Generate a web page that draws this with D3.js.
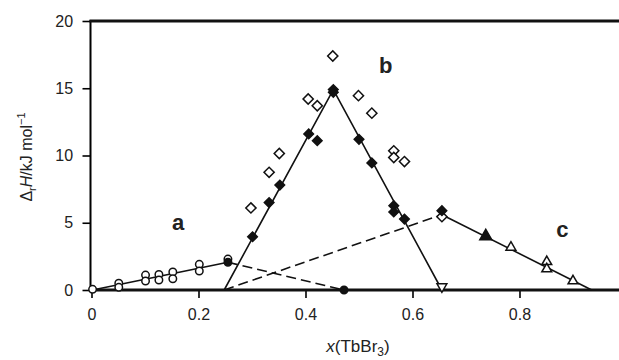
<!DOCTYPE html>
<html><head><meta charset="utf-8">
<script src="https://cdn.jsdelivr.net/npm/d3@7"></script>
<style>body{margin:0;background:#fff}svg{display:block}text{font-family:"Liberation Sans",Arial,Helvetica,sans-serif}</style>
</head><body>
<svg id="c" width="619" height="360"></svg>
<script>
// ---- data ----
const xTicks = [0, 0.2, 0.4, 0.6, 0.8];
const yTicks = [0, 5, 10, 15, 20];
const openCircles = [[0.002,0.05],[0.051,0.5],[0.051,0.2],[0.101,1.11],[0.101,0.67],[0.126,1.16],[0.126,0.74],[0.152,1.34],[0.152,0.84],[0.2015,1.91],[0.2015,1.41],[0.255,2.3]];
const filledCircles = [[0.255,2.06],[0.472,0]];
const filledDiamonds = [[0.301,3.96],[0.332,6.5],[0.352,7.8],[0.406,11.6],[0.422,11.1],[0.452,14.9],[0.452,14.7],[0.5,11.2],[0.524,9.45],[0.565,6.27],[0.565,5.8],[0.585,5.27],[0.655,5.9]];
const openDiamonds = [[0.298,6.1],[0.332,8.75],[0.351,10.15],[0.405,14.2],[0.422,13.7],[0.451,17.4],[0.499,14.45],[0.524,13.15],[0.565,10.35],[0.565,9.85],[0.585,9.55],[0.655,5.45]];
const openDownTriangles = [[0.655,0.25]];
const filledTriangles = [[0.737,4.0]];
const openTriangles = [[0.784,3.17],[0.851,2.1],[0.851,1.56],[0.9,0.67]];
const lineA = [[0.002,0.0],[0.255,2.06]];
const lineB = [[0.248,0],[0.452,14.9],[0.655,0]];
const lineC = [[0.655,5.6],[0.935,0]];
const dashed1 = [[0.255,2.06],[0.472,0]];
const dashed2 = [[0.248,0],[0.655,5.6]];
const regionLabels = [["a",0.162,5.0],["b",0.55,16.7],["c",0.88,4.5]];

// ---- chart ----
const svg = d3.select("#c");
const x = d3.scaleLinear().domain([0, 0.986]).range([91.5, 619]);
const y = d3.scaleLinear().domain([0, 20]).range([290, 21]);

// axes
const gx = svg.append("g").attr("transform", `translate(0,${y(0)})`)
  .call(d3.axisBottom(x).tickValues(xTicks).tickSize(8).tickSizeOuter(0)
    .tickFormat(d => d === 0 ? "0" : d3.format(".1f")(d)));
gx.select(".domain").remove();
gx.selectAll("line").attr("stroke", "#000").attr("stroke-width", 1.6);
gx.selectAll("text").attr("font-size", 16).attr("fill", "#222").attr("dy", "1.2em");

const gy = svg.append("g").attr("transform", `translate(${x(0) - 1},0)`)
  .call(d3.axisLeft(y).tickValues(yTicks).tickSize(8).tickSizeOuter(0));
gy.select(".domain").remove();
gy.selectAll("line").attr("stroke", "#000").attr("stroke-width", 1.6);
gy.selectAll("text").attr("font-size", 16).attr("fill", "#222").attr("dx", "-0.4em");

// frame lines
svg.append("line").attr("x1", x(0) - 1).attr("x2", x(0) - 1).attr("y1", y(20) - 1).attr("y2", y(0) + 2)
  .attr("stroke", "#000").attr("stroke-width", 2);
svg.append("line").attr("x1", x(0) - 2).attr("x2", 619).attr("y1", y(20)).attr("y2", y(20))
  .attr("stroke", "#111").attr("stroke-width", 3);
svg.append("line").attr("x1", x(0) - 2).attr("x2", 619).attr("y1", y(0)).attr("y2", y(0))
  .attr("stroke", "#111").attr("stroke-width", 3);

// lines
const lg = d3.line().x(d => x(d[0])).y(d => y(d[1]));
[lineA, lineB, lineC].forEach(l => svg.append("path").attr("d", lg(l)).attr("fill", "none")
  .attr("stroke", "#111").attr("stroke-width", 1.6));
[dashed1, dashed2].forEach(l => svg.append("path").attr("d", lg(l)).attr("fill", "none")
  .attr("stroke", "#111").attr("stroke-width", 1.6).attr("stroke-dasharray", "10,5"));

// markers
function mark(data, type, size, filled) {
  svg.append("g").selectAll("path").data(data).join("path")
    .attr("transform", d => `translate(${x(d[0])},${y(d[1])})` + (type === "down" ? " rotate(180)" : type === "diamond" ? " rotate(45)" : ""))
    .attr("d", d3.symbol().type(type === "circle" ? d3.symbolCircle : type === "diamond" ? d3.symbolSquare : d3.symbolTriangle).size(size))
    .attr("fill", filled ? "#111" : "#fff").attr("stroke", "#111").attr("stroke-width", 1.5);
}
mark(openCircles, "circle", 44, false);
mark(filledCircles, "circle", 44, true);
mark(openDiamonds, "diamond", 52, false);
mark(filledDiamonds, "diamond", 46, true);
mark(openDownTriangles, "down", 42, false);
mark(openTriangles, "tri", 42, false);
mark(filledTriangles, "tri", 62, true);

// region labels
svg.append("g").selectAll("text").data(regionLabels).join("text")
  .attr("x", d => x(d[1])).attr("y", d => y(d[2])).attr("text-anchor", "middle").attr("dominant-baseline", "central")
  .attr("font-size", 22).attr("font-weight", "bold").attr("fill", "#222").text(d => d[0]);

// axis titles
const xt = svg.append("text").attr("x", 358).attr("y", 352).attr("text-anchor", "middle").attr("font-size", 17).attr("fill", "#222");
xt.append("tspan").attr("font-style", "italic").text("x");
xt.append("tspan").text("(TbBr");
xt.append("tspan").attr("font-size", 12).attr("dy", 4).text("3");
xt.append("tspan").attr("dy", -4).text(")");

const yt = svg.append("text").attr("transform", "translate(32,157) rotate(-90)").attr("text-anchor", "middle").attr("font-size", 16).attr("fill", "#222");
yt.append("tspan").text("Δ");
yt.append("tspan").attr("font-size", 11).attr("dy", 4).text("r");
yt.append("tspan").attr("font-style", "italic").attr("dy", -4).text("H");
yt.append("tspan").text("/kJ mol");
yt.append("tspan").attr("font-size", 11).attr("dy", -7).text("−1");
</script>
</body></html>
